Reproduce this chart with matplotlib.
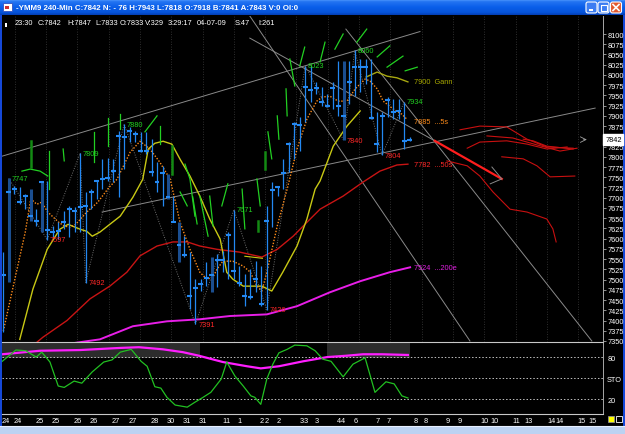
import matplotlib.pyplot as plt
import matplotlib.transforms as mtransforms
from matplotlib.colors import LinearSegmentedColormap
from matplotlib.patches import Rectangle, FancyBboxPatch
import numpy as np

plt.rcParams['font.family'] = ['Liberation Sans', 'DejaVu Sans']

# ---- 240-min YMM9 bars (bar index 0..74) ----
highs = [7567, 7747, 7729, 7726, 7709, 7721, 7672, 7741, 7741, 7631,
         7641, 7667, 7680, 7677, 7809, 7714, 7721, 7741, 7795, 7797,
         7795, 7863, 7880, 7873, 7863, 7861, 7861, 7843, 7787, 7778,
         7758, 7704, 7641, 7606, 7567, 7501, 7501, 7543, 7555, 7563,
         7570, 7616, 7671, 7533, 7514, 7526, 7545, 7533, 7680, 7738,
         7729, 7795, 7836, 7885, 7897, 8023, 8022, 7983, 7970, 7953,
         7983, 8034, 8034, 8034, 8060, 8039, 8039, 8039, 7909, 7909,
         7946, 7941, 7941, 7934, 7848]
lows = [7372, 7494, 7709, 7685, 7672, 7643, 7631, 7616, 7597, 7604,
        7599, 7624, 7604, 7616, 7616, 7492, 7672, 7697, 7721, 7741,
        7738, 7702, 7770, 7836, 7836, 7812, 7807, 7753, 7714, 7680,
        7697, 7641, 7543, 7555, 7428, 7391, 7472, 7484, 7470, 7482,
        7519, 7501, 7501, 7484, 7435, 7453, 7470, 7435, 7426, 7628,
        7704, 7721, 7763, 7795, 7814, 7885, 7934, 7953, 7924, 7922,
        7917, 7900, 7840, 7929, 7948, 7958, 7978, 7892, 7812, 7804,
        7897, 7892, 7892, 7819, 7839]
closes = [7511, 7714, 7721, 7690, 7704, 7655, 7643, 7738, 7621, 7616,
          7619, 7641, 7672, 7667, 7677, 7680, 7714, 7741, 7746, 7748,
          7765, 7851, 7848, 7863, 7856, 7814, 7814, 7763, 7738, 7760,
          7702, 7641, 7585, 7560, 7460, 7479, 7489, 7504, 7511, 7548,
          7548, 7609, 7521, 7492, 7460, 7457, 7501, 7440, 7643, 7719,
          7726, 7760, 7831, 7880, 7878, 7970, 7963, 7968, 7934, 7924,
          7968, 7924, 7900, 7983, 8019, 8019, 8019, 7895, 7831, 7900,
          7939, 7909, 7912, 7839, 7842]
dark_bars = [1, 5, 7, 30, 32, 38, 62]
last_price = 7842

# swing points (zigzag) and their labels
swing_idx = [1, 8, 14, 15, 22, 35, 42, 48, 55, 62, 64, 69, 73]
swing_px = [7747, 7597, 7809, 7492, 7880, 7391, 7671, 7426, 8023, 7840, 8060, 7804, 7934]
swing_up = [True, False, True, False, True, False, True, False, True, False, True, False, True]

# moving averages (sampled off the chart)
ma5_x = [0, 4, 5, 6.1, 7, 8.1, 10.1, 11.1, 12.1, 13.2, 15.2, 17.2, 19.3, 20.7, 23.1, 24.9,
         26.7, 28.5, 30.4, 32.2, 34, 35.8, 37.1, 38.2, 38.9, 40, 41.8, 43.7, 45, 46.2, 47.1,
         48, 49.9, 51.7, 53.5, 55.3, 57.1, 58.1, 59.5, 61, 62.6, 64.1, 65.9, 66.8, 68.1,
         69.2, 71, 72.6, 73.5]
ma5_y = [7374, 7616, 7697, 7684, 7689, 7665, 7640, 7631, 7628, 7635, 7665, 7689, 7726, 7745,
         7811, 7838, 7819, 7787, 7745, 7640, 7574, 7518, 7501, 7506, 7525, 7545, 7545, 7533,
         7518, 7484, 7472, 7518, 7631, 7721, 7819, 7892, 7936, 7946, 7948, 7936, 7936, 7966,
         7990, 7985, 7966, 7936, 7917, 7904, 7892]
yel_x = [3.0, 5.4, 8.0, 10.3, 11.8, 14.0, 15.2, 16.2, 17.6, 19.4, 21.3, 23.6, 25.4, 26.4,
         27.6, 29.1, 30.7, 32.2, 34.0, 35.8, 37.6, 39.5, 40.7, 41.8, 43.7, 45.5, 47.1, 48.9,
         50.9, 53.5, 55.3, 56.8, 57.7, 60.1, 62.6, 65.0]
yel_y = [7354, 7477, 7574, 7623, 7635, 7623, 7618, 7606, 7616, 7635, 7655, 7701, 7745, 7819,
         7833, 7838, 7831, 7794, 7753, 7704, 7648, 7599, 7518, 7501, 7484, 7484, 7484, 7472,
         7518, 7582, 7648, 7721, 7741, 7826, 7875, 7912]
gann_x = [66.1, 68.1, 69.9, 71.7, 73.7]
gann_y = [7995, 8007, 7997, 7993, 7983]
ma50_x = [5.5, 7.2, 11.6, 15.8, 19.4, 22.5, 24.9, 28.0, 30.9, 33.5, 35.8, 38.9, 43.1, 47.1,
          49.9, 52.8, 55.9, 57.7, 61.9, 65.5, 68.6, 71.7, 73.7]
ma50_y = [7340, 7359, 7400, 7453, 7484, 7518, 7558, 7582, 7592, 7592, 7582, 7574, 7567, 7555,
          7574, 7606, 7648, 7672, 7704, 7738, 7765, 7780, 7782]
ma200_x = [10.3, 17.6, 23.6, 29.8, 35.8, 41.3, 48.0, 53.5, 59.5, 65.0, 70.4, 74.1]
ma200_y = [7340, 7354, 7386, 7398, 7403, 7411, 7415, 7435, 7469, 7496, 7518, 7530]
box_x = [44.0, 47.2]
box_y = [7557, 7552]

end_labels = [('7900  Gann', 7983, '#A8A800'), ('7885  ...5s', 7887, '#FF8C1A'),
              ('7782  ...50s', 7782, '#FF2828'), ('7524  ...200e', 7530, '#E020E0')]

# trend / fan lines (two points each: bar index, price)
grey_lines = [([-0.6, 75.9], [7800, 8106]),
              ([18.0, 107.8], [7665, 7919]),
              ([62.4, 107.2], [8112, 7350]),
              ([44.9, 78.6], [8090, 7839]),
              ([44.9, 85.0], [8144, 7350])]

# short green cycle strokes
green_strokes = [([3.4, 4.9, 6.7, 8.1], [7765, 7770, 7765, 7753]),
                 ([8.3, 8.3], [7814, 7721]), ([10.9, 11.1], [7819, 7790]),
                 ([16.5, 16.5], [7861, 7787]), ([19.1, 19.1], [7895, 7826]),
                 ([21.3, 21.3], [7904, 7868]), ([25.8, 28.0], [7861, 7900]),
                 ([28.5, 28.5], [7875, 7831]), ([33.1, 34.0, 34.9], [7782, 7746, 7655]),
                 ([32.2, 33.5], [7714, 7680]), ([34.5, 35.3], [7702, 7636]),
                 ([37.6, 38.2], [7704, 7631]), ([39.8, 40.9], [7680, 7734]),
                 ([43.5, 44.0], [7721, 7624]), ([35.8, 37.3], [7704, 7606]),
                 ([46.2, 46.8], [7746, 7680]), ([48.2, 48.9], [7861, 7795]),
                 ([49.9, 50.2], [7900, 7843]), ([51.5, 51.7], [7966, 7900]),
                 ([52.2, 53.1], [8039, 7973]), ([54.0, 54.9], [8022, 8068]),
                 ([57.7, 58.6], [8032, 8080]), ([60.4, 61.9], [8063, 8100]),
                 ([64.4, 66.2], [8080, 8112]), ([68.1, 70.4], [8044, 8071]),
                 ([69.9, 72.8], [8019, 8046]), ([73.2, 75.4], [8010, 8019])]
green_dark = [([5.0, 5.0], [7839, 7775]), ([30.7, 30.7], [7826, 7758]),
              ([46.4, 46.4], [7643, 7619]), ([47.7, 47.7], [7812, 7770])]

# red projection curves
proj_curves = [([83.2, 86.8, 91.7, 95.4, 99.0, 103.8], [7866, 7875, 7873, 7843, 7824, 7821]),
               ([88.1, 92.8, 97.2, 101.4, 104.5], [7851, 7846, 7829, 7814, 7821]),
               ([84.5, 86.8, 91.7, 95.4, 99.0, 102.7], [7821, 7836, 7839, 7831, 7819, 7824]),
               ([94.7, 96.5, 99.0, 103.8], [7843, 7839, 7826, 7819]),
               ([90.8, 94.7, 97.2, 99.6, 104.1], [7800, 7795, 7778, 7751, 7753]),
               ([80.8, 84.5, 86.8, 89.2, 92.3, 95.4, 99.0, 100.1, 100.7],
                [7790, 7778, 7753, 7714, 7672, 7665, 7648, 7624, 7592])]
arrow_x = [78.6, 90.8]
arrow_y = [7839, 7746]
arrow_head_x = [89.0, 90.8, 88.7]
arrow_head_y = [7775, 7746, 7734]

# stochastics
sto_k_x = [-0.2, 2.3, 4.1, 6.0, 7.0, 8.5, 10.0, 11.1, 12.9, 14.3, 16.2, 18.3, 19.8, 21.3,
           23.3, 25.1, 26.2, 27.6, 28.7, 29.8, 31.3, 33.5, 34.9, 36.4, 37.8, 39.7, 40.7,
           42.2, 43.7, 45.1, 45.8, 46.9, 48.0, 49.1, 50.2, 51.7, 53.1, 55.3, 56.8, 58.2,
           59.7, 61.9, 63.7, 65.9, 67.7, 69.7, 71.2, 72.6, 73.7]
sto_k = [74, 90, 89, 80, 87, 73, 39, 37, 46, 43, 59, 73, 76, 87, 91, 74, 67, 38, 36, 23,
         12, 9, 16, 23, 30, 49, 73, 53, 39, 25, 23, 13, 49, 70, 86, 91, 97, 96, 89, 77,
         74, 52, 70, 79, 30, 45, 42, 25, 22]
sto_d_x = [-0.2, 6.7, 14.0, 21.3, 24.7, 29.1, 32.7, 35.6, 40.0, 44.4, 46.9, 50.2, 54.6,
           59.0, 62.6, 65.5, 69.0, 73.7]
sto_d = [84, 89, 90, 93, 94, 91, 87, 82, 73, 67, 64, 67, 74, 80, 82, 84, 84, 83]
sto_bands = [(-0.3, 35.8), (59.0, 74.1)]

date_pos = [0.5, 2.7, 6.7, 9.6, 13.6, 16.5, 20.5, 23.6, 27.6, 30.5, 33.5, 36.4, 40.2, 40.9,
            43.1, 47.1, 47.9, 50.2, 54.4, 55.1, 57.1, 61.1, 61.9, 64.1, 68.1, 70.1, 75.2,
            77.0, 81.0, 83.2, 87.6, 89.4, 93.4, 95.6, 99.8, 101.4, 105.4, 107.4]
date_lab = ['24', '24', '25', '25', '26', '26', '27', '27', '28', '30', '31', '31', '1', '1',
            '1', '2', '2', '2', '3', '3', '3', '4', '4', '6', '7', '7', '8', '8', '9', '9',
            '10', '10', '11', '13', '14', '14', '15', '15']

title = "-YMM9 240-Min C:7842 N: - 76 H:7943 L:7818 O:7918 B:7841 A:7843 V:0 OI:0"
info = [("23:30", 15), ("C:7842", 38), ("H:7847", 67), ("L:7833", 95), ("O:7833", 120),
        ("V:329", 145), ("3:29:17", 168), ("04-07-09", 197), ("S:47", 235), ("I:261", 258)]

# ------------------------------------------------------------------
W, H = 625, 435
fig = plt.figure(figsize=(W / 100, H / 100), dpi=100, facecolor='black')


def box(x0, y0, x1, y1):
    return [x0 / W, 1 - y1 / H, (x1 - x0) / W, (y1 - y0) / H]


# window chrome
bg = fig.add_axes([0, 0, 1, 1], zorder=-5)
bg.set_xlim(0, W)
bg.set_ylim(H, 0)
bg.axis('off')
bar_cm = LinearSegmentedColormap.from_list(
    'xp', [(0, '#5AA2FF'), (0.15, '#2474F2'), (0.5, '#0A5EEA'), (0.85, '#0654DA'), (1, '#033FB5')])
bg.imshow(np.linspace(0, 1, 32).reshape(-1, 1), extent=[0, W, 16, 0], aspect='auto', cmap=bar_cm)
for bx, fc in [(586, '#3C7DF2'), (598, '#3C7DF2'), (610.5, '#E2582E')]:
    bg.add_patch(FancyBboxPatch((bx, 3), 11, 11, boxstyle='round,pad=0,rounding_size=2',
                                fc=fc, ec='white', lw=0.8))
bg.add_patch(Rectangle((588.5, 10), 4.5, 1.6, fc='white', ec='none'))
bg.add_patch(Rectangle((600.5, 5.5), 6, 6, fill=False, ec='white', lw=0.8))
bg.add_patch(Rectangle((600.5, 5.5), 6, 1.3, fc='white', ec='none'))
bg.plot([613, 619], [5.5, 11.5], color='white', lw=1.2)
bg.plot([613, 619], [11.5, 5.5], color='white', lw=1.2)
bg.add_patch(Rectangle((3, 4), 9, 8, fc='white', ec='#3050C0', lw=0.6))
bg.add_patch(Rectangle((5, 7), 4, 3, fc='#D03030', ec='none'))
bg.add_patch(Rectangle((0, 16), 2, 411, fc='#1548D8', ec='none'))
bg.add_patch(Rectangle((623, 16), 2, 411, fc='#1548D8', ec='none'))
bg.add_patch(Rectangle((0, 427), W, 8, fc='#BCD2F2', ec='none'))
bg.plot([0, W], [426.8, 426.8], color='#E8F0FF', lw=0.8)
bg.add_patch(Rectangle((608, 417), 6, 6, fc='#FFFF00', ec='#909090', lw=0.6))
bg.add_patch(Rectangle((616, 417), 6, 6, fill=False, ec='white', lw=0.6))

fig.text(16 / W, 1 - 8.5 / H, title, color='white', fontsize=5.7, fontweight='bold', va='center')
for txt, px in info:
    fig.text(px / W, 1 - 23.5 / H, txt, color='white', fontsize=5.3, va='center', zorder=20)
fig.patches.append(Rectangle((5 / W, 1 - 28 / H), 1.5 / W, 4 / H, fc='white', ec='none',
                             transform=fig.transFigure, figure=fig))

# main price panel
x_lo, x_hi = (2 - 3.3) / 5.49, (603 - 3.3) / 5.49
ax = fig.add_axes(box(2, 17, 603, 343))
ax.set_facecolor('black')
ax.set_xlim(x_lo, x_hi)
ax.set_ylim(7347.5, 8144)
for s in ['top', 'left', 'bottom']:
    ax.spines[s].set_visible(False)
ax.spines['right'].set_color('#A8A8A8')
ax.spines['right'].set_linewidth(0.7)
ax.yaxis.tick_right()
price_ticks = np.arange(7350, 8101, 25)
ax.set_yticks(price_ticks)
# the 7850 label sits under the last-price tag in the reference
ax.set_yticklabels(['' if t == 7850 else str(t) for t in price_ticks])
ax.tick_params(axis='y', colors='white', labelsize=5.3, length=2.5, width=0.6, pad=0.8)
ax.tick_params(axis='y', color='#A8A8A8')
ax.set_xticks([])

for gx in np.arange(2.1, x_hi, 5.7):
    ax.axvline(gx, color='#3C3C3C', lw=0.6, ls=(0, (1, 2)), zorder=0)

for lx, ly in grey_lines:
    ax.plot(lx, ly, color='#8A8A8A', lw=0.7, zorder=1)
ax.plot(swing_idx, swing_px, color='#6E6E6E', lw=0.7, ls=(0, (1, 1.5)), zorder=1)

ax.plot(ma200_x, ma200_y, color='#E81EE8', lw=1.4, zorder=2)
ax.plot(ma50_x, ma50_y, color='#C81414', lw=1.0, zorder=2)
ax.plot(yel_x, yel_y, color='#C8C814', lw=1.0, zorder=2)
ax.plot(gann_x, gann_y, color='#A8A810', lw=1.0, zorder=2)
ax.plot(box_x, box_y, color='#C8C814', lw=0.8, zorder=2)
ax.plot(ma5_x, ma5_y, color='#FF8C1A', lw=1.0, ls=(0, (1, 1.2)), zorder=2)

for sx, sy in green_strokes:
    ax.plot(sx, sy, color='#22D022', lw=0.9, zorder=2)
for sx, sy in green_dark:
    ax.plot(sx, sy, color='#138A13', lw=1.8, zorder=2)

idx = np.arange(len(highs))
hi = np.array(highs)
lo = np.array(lows)
cl = np.array(closes)
norm = np.array([i not in dark_bars for i in idx])
ax.vlines(idx[norm], lo[norm], hi[norm], color='#2388F2', lw=0.9, zorder=3)
ax.vlines(idx[~norm], lo[~norm], hi[~norm], color='#1B4E90', lw=2.2, zorder=3)
ax.hlines(cl, idx - 0.45, idx + 0.45, color='#2388F2', lw=1.5, zorder=4)

for i, p, up in zip(swing_idx, swing_px, swing_up):
    ax.text(i + 0.5, p, str(p), color='#22D022' if up else '#FF2828', fontsize=5.3,
            va='center', ha='left', zorder=5)
for txt, p, c in end_labels:
    ax.text(74.8, p, txt, color=c, fontsize=5.3, va='center', ha='left', zorder=5)

for cx, cy in proj_curves:
    ax.plot(cx, cy, color='#C81010', lw=0.8, zorder=2)
ax.plot(arrow_x, arrow_y, color='#FF1E1E', lw=1.6, zorder=3)
ax.plot(arrow_head_x, arrow_head_y, color='#8A8A8A', lw=0.7, zorder=3)

trans = mtransforms.blended_transform_factory(ax.transAxes, ax.transData)
ax.text(1.0035, last_price, str(last_price), transform=trans, fontsize=5.3, color='black',
        va='center', ha='left', zorder=10, clip_on=False,
        bbox=dict(fc='white', ec='white', pad=1.2))
ax.annotate('', xy=(106.8, last_price), xytext=(105.2, last_price),
            arrowprops=dict(arrowstyle='->', color='#A0A0A0', lw=0.6))

# stochastic panel
axs = fig.add_axes(box(2, 343, 603, 415))
axs.set_facecolor('black')
axs.set_xlim(x_lo, x_hi)
axs.set_ylim(-0.7, 101.4)
for a, b in sto_bands:
    axs.fill_between([a, b], 79, 101.4, color='#2C2C2C', lw=0, zorder=0)
for lvl in [80, 50, 20]:
    axs.axhline(lvl, color='#C0C0C0', lw=0.7, ls=(0, (1.5, 2)), zorder=1)
axs.plot(sto_d_x, sto_d, color='#FF1EFF', lw=1.6, zorder=2)
axs.plot(sto_k_x, sto_k, color='#22C022', lw=0.9, zorder=3)
axs.spines['left'].set_visible(False)
for s in ['top', 'bottom']:
    axs.spines[s].set_color('#C8C8C8')
    axs.spines[s].set_linewidth(0.8)
axs.spines['right'].set_color('#A8A8A8')
axs.spines['right'].set_linewidth(0.7)
axs.yaxis.tick_right()
axs.set_yticks([80, 50, 20])
axs.set_yticklabels(['80', 'STO', '20'])
axs.tick_params(axis='y', colors='white', labelsize=5.3, length=0, pad=3)
axs.set_xticks(date_pos)
axs.set_xticklabels(date_lab)
axs.tick_params(axis='x', colors='white', labelsize=5.3, length=0, pad=2.5)

fig.savefig('out.png', dpi=100, facecolor='black')
